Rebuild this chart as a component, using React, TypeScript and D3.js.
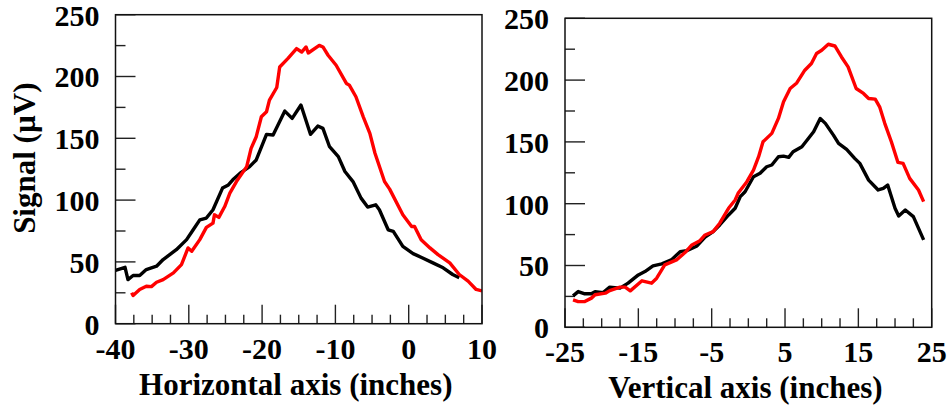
import React from "react";
import * as d3 from "d3";

// Horizontal scan (inches, µV)
const horizBlack: [number, number][] = [
  [-40.0, 43.2], [-38.7, 45.6], [-38.3, 35.7], [-37.6, 39], [-36.7, 39], [-35.8, 43.8],
  [-34.4, 46.5], [-33.5, 51.9], [-31.7, 59.9], [-30.3, 68], [-29.4, 76], [-28.5, 84],
  [-27.6, 85.5], [-26.7, 92.2], [-25.4, 109.7], [-24.6, 112.3], [-24.0, 116.4], [-23.0, 121.8],
  [-21.7, 127.1], [-20.8, 132.5], [-19.4, 153.2], [-18.5, 152.7], [-16.9, 172], [-15.9, 166.1],
  [-14.7, 176.9], [-13.4, 153.2], [-12.4, 159.9], [-11.7, 158], [-10.8, 143.2], [-9.6, 135.2],
  [-8.7, 123.1], [-7.6, 115], [-6.5, 101.6], [-5.6, 94.4], [-4.5, 96.2], [-4.0, 92.2],
  [-2.8, 76], [-2.1, 74.7], [-0.8, 62.6], [0.6, 56.7], [1.9, 53.2], [3.3, 49.2],
  [4.7, 45.2], [6.0, 39.8], [6.9, 37.1],
];

const horizRed: [number, number][] = [
  [-37.8, 25], [-37.6, 22.8], [-36.7, 27.7], [-35.8, 30.3], [-35.1, 30], [-34.4, 33.5],
  [-33.5, 35.7], [-32.1, 41.1], [-31.0, 47.8], [-30.1, 61.3], [-29.6, 58.6], [-28.5, 68],
  [-27.6, 77.9], [-26.7, 81.4], [-26.5, 88.1], [-25.9, 86], [-25.1, 94.8], [-24.4, 105.6],
  [-23.5, 115], [-22.1, 127.1], [-21.5, 141.9], [-20.8, 151.3], [-20.1, 167.4], [-19.4, 171.5],
  [-19.0, 180.9], [-18.0, 191.1], [-17.6, 207.7], [-16.5, 214.5], [-15.3, 222.6], [-14.6, 219.8],
  [-14.0, 223.9], [-13.7, 219], [-12.2, 225.2], [-11.7, 223.9], [-11.0, 217.2], [-9.9, 209.1],
  [-8.5, 194.4], [-8.1, 193], [-7.2, 183.6], [-6.2, 167.4], [-5.3, 154], [-4.6, 137.9],
  [-3.3, 115], [-2.6, 108.9], [-0.8, 88.1], [0.4, 78.7], [0.8, 78.7], [1.7, 68],
  [2.9, 61.3], [4.0, 55.9], [5.6, 49.2], [6.9, 39.8], [8.1, 34.4], [9.2, 27.7], [10.0, 26.5],
];

// Vertical scan (inches, µV)
const vertBlack: [number, number][] = [
  [-23.9, 25.4], [-23.2, 28.9], [-22.3, 27.1], [-21.4, 27.1], [-20.9, 28.9], [-19.8, 28.1],
  [-18.9, 32.5], [-17.5, 31.7], [-16.4, 35.7], [-15.0, 42.4], [-14.1, 45.1], [-13.0, 49.7],
  [-11.8, 51.3], [-10.5, 54.5], [-9.3, 61.2], [-8.4, 62], [-7.0, 65.8], [-5.9, 72.9],
  [-4.8, 77.4], [-3.9, 82.8], [-2.7, 90.9], [-1.8, 96.3], [-1.1, 105.7], [-0.45, 109.7],
  [0.7, 121.8], [1.6, 124.6], [2.5, 129.9], [3.2, 131.3], [4.1, 138], [4.8, 138.5],
  [5.5, 137.5], [6.1, 142], [7.3, 146.1], [8.9, 158.2], [9.8, 169], [10.5, 165],
  [11.6, 155.5], [12.3, 148.8], [13.4, 143.9], [14.5, 136.7], [15.2, 132.6], [16.4, 119.1],
  [17.7, 111.1], [18.4, 112.4], [19.0, 115.1], [20.0, 96.3], [20.5, 90.1], [21.4, 94.9],
  [22.5, 89.5], [23.9, 70.7],
];

const vertRed: [number, number][] = [
  [-23.9, 22.2], [-23.2, 20.8], [-22.3, 20.8], [-21.4, 23.6], [-20.9, 26.3], [-19.5, 27.6],
  [-18.9, 29.7], [-17.5, 32.5], [-16.8, 32.5], [-16.1, 29.5], [-14.5, 37.6], [-13.2, 35.7],
  [-12.5, 39.7], [-11.4, 50.5], [-9.8, 54.5], [-8.6, 60.7], [-7.7, 66.6], [-6.6, 70.1],
  [-5.9, 74.7], [-4.8, 77.4], [-3.9, 84.2], [-2.7, 96.3], [-1.8, 103], [-1.4, 108.4],
  [-0.2, 117.8], [0.7, 127.2], [1.4, 138], [2.0, 150.1], [3.2, 156.9], [4.1, 169],
  [4.8, 182.4], [5.7, 193.2], [6.6, 197.7], [7.7, 208], [8.6, 213.4], [9.3, 221.5],
  [10.0, 224.1], [10.9, 229], [11.8, 227.6], [12.7, 218.7], [13.6, 210.7], [14.7, 193.2],
  [15.7, 189.2], [16.4, 185.1], [17.3, 184.6], [17.9, 178.4], [18.6, 165], [19.5, 150.1],
  [20.4, 133.4], [21.1, 132.6], [22.0, 120.5], [23.2, 111.1], [23.9, 101.7],
];

const horizTicks = [-40, -30, -20, -10, 0, 10];
const vertTicks = [-25, -15, -5, 5, 15, 25];
const signalTicks = [0, 50, 100, 150, 200, 250];

const FONT = "'Liberation Serif', 'Times New Roman', serif";

type PanelProps = {
  left: number;
  top: number;
  width: number;
  height: number;
  xDomain: [number, number];
  xTicks: number[];
  xTitle: string;
  yTitle?: string;
  black: [number, number][];
  red: [number, number][];
};

function Panel({ left, top, width, height, xDomain, xTicks, xTitle, yTitle, black, red }: PanelProps) {
  const x = d3.scaleLinear().domain(xDomain).range([0, width]);
  const y = d3.scaleLinear().domain([0, 250]).range([height, 0]);
  const line = d3
    .line<[number, number]>()
    .x((d) => x(d[0]))
    .y((d) => y(d[1]));

  const xMinor = d3.range(xDomain[0], xDomain[1] + 0.001, 2.5);
  const yMinor = d3.range(0, 250.001, 25);

  return (
    <g transform={`translate(${left},${top})`}>
      <defs>
        <clipPath id={`clip-${left}`}>
          <rect x={0} y={0} width={width} height={height} />
        </clipPath>
      </defs>
      {/* minor + major ticks along the bottom */}
      {xMinor.map((v, i) => {
        const major = xTicks.some((t) => Math.abs(t - v) < 1e-6);
        return (
          <line
            key={`xt${i}`}
            x1={x(v)}
            x2={x(v)}
            y1={height}
            y2={height - (major ? 19 : 9)}
            stroke="#222"
            strokeWidth={1.4}
          />
        );
      })}
      {/* minor + major ticks along the left */}
      {yMinor.map((v, i) => {
        const major = signalTicks.includes(v);
        return (
          <line
            key={`yt${i}`}
            x1={0}
            x2={major ? 20 : 10}
            y1={y(v)}
            y2={y(v)}
            stroke="#222"
            strokeWidth={1.4}
          />
        );
      })}
      <g clipPath={`url(#clip-${left})`}>
        <path d={line(black) || ""} fill="none" stroke="#000" strokeWidth={3.4} strokeLinejoin="round" />
        <path d={line(red) || ""} fill="none" stroke="#ff0000" strokeWidth={3.4} strokeLinejoin="round" />
      </g>
      <rect x={0} y={0} width={width} height={height} fill="none" stroke="#111" strokeWidth={1.5} />
      {xTicks.map((t) => (
        <text
          key={`xl${t}`}
          x={x(t)}
          y={height + 35}
          textAnchor="middle"
          fontFamily={FONT}
          fontWeight="bold"
          fontSize={30}
        >
          {t}
        </text>
      ))}
      {signalTicks.map((t) => (
        <text
          key={`yl${t}`}
          x={-16}
          y={y(t) + 11}
          textAnchor="end"
          fontFamily={FONT}
          fontWeight="bold"
          fontSize={30}
        >
          {t}
        </text>
      ))}
      <text
        x={width / 2 - 3}
        y={height + 71}
        textAnchor="middle"
        fontFamily={FONT}
        fontWeight="bold"
        fontSize={31}
      >
        {xTitle}
      </text>
      {yTitle && (
        <text
          transform={`translate(${-81},${height / 2 - 11}) rotate(-90)`}
          textAnchor="middle"
          fontFamily={FONT}
          fontWeight="bold"
          fontSize={31}
        >
          {yTitle}
        </text>
      )}
    </g>
  );
}

export default function App() {
  return (
    <svg
      width={951}
      height={408}
      style={{ position: "absolute", left: 0, top: 0, background: "#fff" }}
    >
      <Panel
        left={115.5}
        top={14.7}
        width={366.5}
        height={309}
        xDomain={[-40, 10]}
        xTicks={horizTicks}
        xTitle="Horizontal axis (inches)"
        yTitle="Signal (µV)"
        black={horizBlack}
        red={horizRed}
      />
      <Panel
        left={565}
        top={18.3}
        width={366.7}
        height={309}
        xDomain={[-25, 25]}
        xTicks={vertTicks}
        xTitle="Vertical axis (inches)"
        black={vertBlack}
        red={vertRed}
      />
    </svg>
  );
}
